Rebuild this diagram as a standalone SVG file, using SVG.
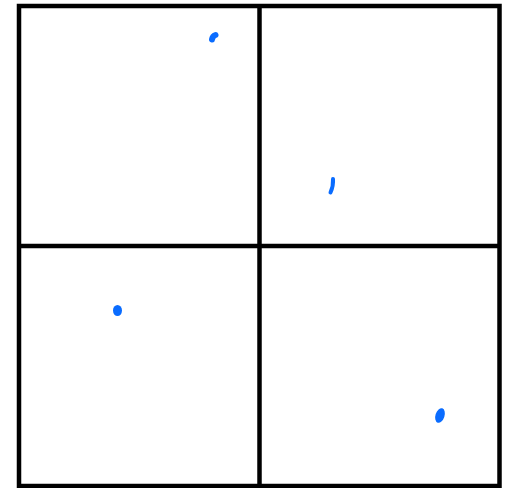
<svg xmlns="http://www.w3.org/2000/svg" width="512" height="488" viewBox="0 0 512 488">
<style>
.frame{fill:none;stroke:#000;stroke-width:4.5}
.mark{fill:none;stroke:#0a6cff;stroke-linecap:round;stroke-linejoin:round}
.dot{fill:#0a6cff}
</style>
<rect width="512" height="488" fill="#fff"/>
<g id="grid">
<rect class="frame" x="19" y="6" width="480.5" height="480"/>
<line class="frame" x1="259.5" y1="6" x2="259.5" y2="486"/>
<line class="frame" x1="19" y1="246" x2="499.5" y2="246"/>
</g>
<g id="marks">
<path class="mark" stroke-width="6" d="M212,39.5 Q212.5,36 215.5,35"/>
<path class="mark" stroke-width="4" d="M333,179 Q333.5,186 330.5,192.5"/>
<ellipse class="dot" cx="117.5" cy="310.5" rx="4.5" ry="5.5"/>
<ellipse class="dot" cx="440" cy="415.5" rx="4.5" ry="7.5" transform="rotate(18 440 415.5)"/>
</g>
</svg>
